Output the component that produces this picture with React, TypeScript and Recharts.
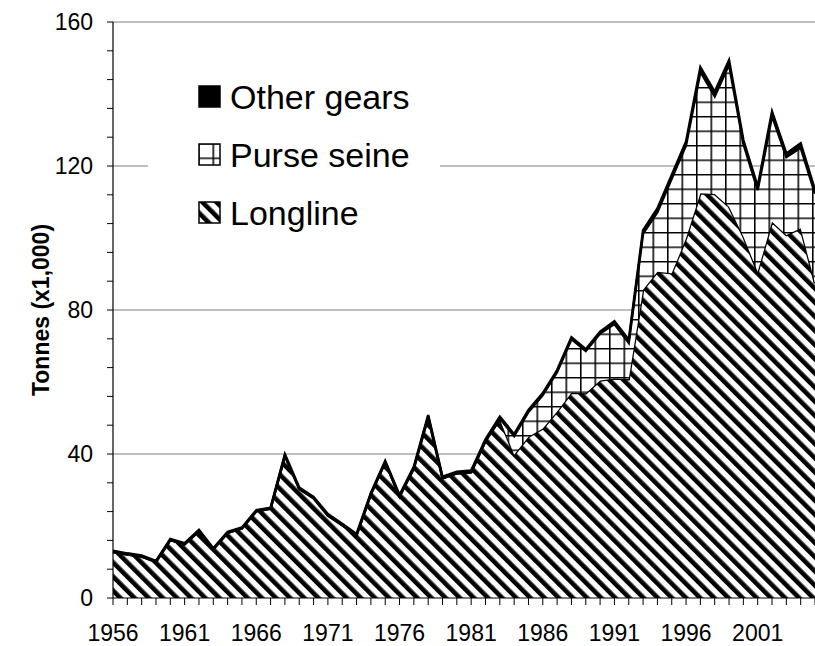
import React from "react";
import { Area, AreaChart, CartesianGrid, Label, Legend, XAxis, YAxis } from "recharts";

const years = [
  "1956", "1957", "1958", "1959", "1960", "1961", "1962", "1963", "1964", "1965",
  "1966", "1967", "1968", "1969", "1970", "1971", "1972", "1973", "1974", "1975",
  "1976", "1977", "1978", "1979", "1980", "1981", "1982", "1983", "1984", "1985",
  "1986", "1987", "1988", "1989", "1990", "1991", "1992", "1993", "1994", "1995",
  "1996", "1997", "1998", "1999", "2000", "2001", "2002", "2003", "2004", "2005",
];

// thousand tonnes
const longline = [
  12.8, 12.1, 11.5, 10.0, 16.1, 14.9, 18.6, 13.5, 18.1, 19.3,
  24.1, 24.8, 39.5, 30.3, 27.7, 22.9, 20.2, 17.4, 28.8, 37.7,
  28.2, 36.0, 50.3, 33.2, 34.6, 34.9, 43.6, 49.6, 39.8, 44.8,
  47.1, 51.8, 57.0, 56.9, 60.4, 61.0, 60.8, 85.6, 90.6, 90.2,
  99.9, 112.4, 112.2, 108.7, 100.4, 90.6, 104.5, 100.8, 102.7, 87.4,
];

const purseSeine = [
  0, 0, 0, 0, 0, 0, 0, 0, 0, 0,
  0, 0, 0, 0, 0, 0, 0, 0, 0, 0,
  0, 0, 0, 0, 0, 0, 0, 0.3, 5.2, 6.9,
  9.3, 11.0, 14.9, 11.7, 13.1, 15.1, 10.1, 15.6, 16.6, 26.3,
  25.9, 33.8, 27.2, 39.5, 25.8, 22.7, 29.4, 21.7, 22.4, 24.9,
];

const otherGears = [
  0.3, 0.3, 0.3, 0.3, 0.3, 0.3, 0.3, 0.3, 0.3, 0.3,
  0.3, 0.3, 0.4, 0.4, 0.4, 0.4, 0.4, 0.4, 0.4, 0.4,
  0.4, 0.5, 0.5, 0.5, 0.5, 0.5, 0.5, 0.5, 0.5, 0.5,
  0.5, 0.5, 0.5, 0.5, 0.5, 0.8, 0.8, 1.0, 1.0, 1.0,
  1.0, 1.2, 1.2, 1.2, 1.0, 1.0, 1.2, 1.0, 1.2, 1.0,
];

const xTickLabels = ["1956", "1961", "1966", "1971", "1976", "1981", "1986", "1991", "1996", "2001"];
const yTicks = [0, 8, 16, 24, 32, 40, 48, 56, 64, 72, 80, 88, 96, 104, 112, 120, 128, 136, 144, 152, 160];
const yTickLabels = [0, 40, 80, 120, 160];
const gridValues = [40, 80, 120, 160];

const seriesNames = ["Longline", "Purse seine", "Other gears"];

const data = years.map((year, i) => ({
  year,
  longline: longline[i],
  purseSeine: purseSeine[i],
  otherGears: otherGears[i],
}));

const FONT = "'Liberation Sans', Arial, sans-serif";

const XTick = (props: any) => {
  const { x, y, payload } = props;
  if (!xTickLabels.includes(String(payload.value))) return <g />;
  return (
    <text x={x} y={y + 34} textAnchor="middle" fontFamily={FONT} fontSize={23} fill="#000">
      {payload.value}
    </text>
  );
};

const YTick = (props: any) => {
  const { x, y, payload } = props;
  if (!yTickLabels.includes(payload.value)) return <g />;
  return (
    <text x={x - 12} y={y} dy="0.35em" textAnchor="end" fontFamily={FONT} fontSize={23} fill="#000">
      {payload.value}
    </text>
  );
};

const legendRows = [
  { name: seriesNames[2], fill: "#000" },
  { name: seriesNames[1], fill: "url(#psGrid)" },
  { name: seriesNames[0], fill: "url(#llStripe)" },
];

const LegendBox = () => (
  <div style={{ background: "#fff", width: 292, height: 185, position: "relative" }}>
    {legendRows.map((row, i) => (
      <div
        key={row.name}
        style={{
          position: "absolute",
          left: 50,
          top: 15 + i * 58,
          height: 40,
          display: "flex",
          alignItems: "center",
          fontFamily: FONT,
          fontSize: 34,
          color: "#000",
          whiteSpace: "nowrap",
        }}
      >
        <svg width={24} height={24} style={{ marginRight: 8 }}>
          <rect x={1} y={1} width={21} height={21} fill={row.fill} stroke="#000" strokeWidth={1.5} />
        </svg>
        {row.name}
      </div>
    ))}
  </div>
);

export default function App() {
  return (
    <div style={{ position: "absolute", left: 0, top: 0, background: "#fff" }}>
      <AreaChart width={815} height={646} data={data} margin={{ top: 22, right: 0, left: 0, bottom: 0 }}>
        <defs>
          <pattern id="llStripe" patternUnits="userSpaceOnUse" width={10} height={10} patternTransform="rotate(-45)">
            <rect width={10} height={10} fill="#fff" />
            <rect x={0} y={0} width={4.6} height={10} fill="#000" />
          </pattern>
          <pattern id="psGrid" patternUnits="userSpaceOnUse" width={14.5} height={14.5}>
            <rect width={14.5} height={14.5} fill="#fff" />
            <path d="M0 0.75 H14.5 M0.75 0 V14.5" stroke="#000" strokeWidth={1.6} />
          </pattern>
        </defs>
        <CartesianGrid vertical={false} horizontalValues={gridValues} stroke="#808080" strokeWidth={1} />
        <XAxis
          dataKey="year"
          interval={0}
          height={48}
          tick={<XTick />}
          tickSize={7}
          axisLine={{ stroke: "#000", strokeWidth: 1.2 }}
          tickLine={{ stroke: "#000" }}
        />
        <YAxis
          type="number"
          domain={[0, 160]}
          ticks={yTicks}
          interval={0}
          width={113}
          tick={<YTick />}
          tickSize={6}
          axisLine={{ stroke: "#000", strokeWidth: 1.2 }}
          tickLine={{ stroke: "#000" }}
        >
          <Label
            content={(props: any) => {
              const vb = props.viewBox || { y: 22, height: 576 };
              const cx = 41;
              const cy = vb.y + vb.height / 2;
              return (
                <text
                  x={cx}
                  y={cy}
                  transform={`rotate(-90, ${cx}, ${cy})`}
                  textAnchor="middle"
                  dominantBaseline="central"
                  fontFamily={FONT}
                  fontSize={23}
                  fontWeight="bold"
                  fill="#000"
                >
                  Tonnes (x1,000)
                </text>
              );
            }}
          />
        </YAxis>
        <Legend
          layout="vertical"
          align="center"
          verticalAlign="middle"
          content={<LegendBox />}
          wrapperStyle={{ left: 148, top: 62, width: 292, height: 185 }}
        />
        <Area
          type="linear"
          dataKey="longline"
          name={seriesNames[0]}
          stackId="1"
          stroke="#000"
          strokeWidth={2.5}
          fill="url(#llStripe)"
          fillOpacity={1}
          isAnimationActive={false}
        />
        <Area
          type="linear"
          dataKey="purseSeine"
          name={seriesNames[1]}
          stackId="1"
          stroke="#000"
          strokeWidth={2.5}
          fill="url(#psGrid)"
          fillOpacity={1}
          isAnimationActive={false}
        />
        <Area
          type="linear"
          dataKey="otherGears"
          name={seriesNames[2]}
          stackId="1"
          stroke="#000"
          strokeWidth={2.5}
          fill="#000"
          fillOpacity={1}
          isAnimationActive={false}
        />
      </AreaChart>
    </div>
  );
}
